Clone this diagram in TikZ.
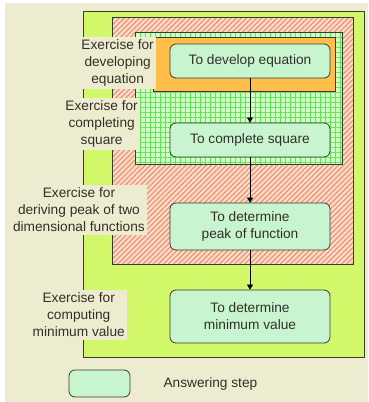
\documentclass[tikz,border=0pt]{standalone}
\usepackage{xcolor}
\usepackage{fontspec}
\setmainfont{Liberation Sans}
\usetikzlibrary{arrows.meta,patterns.meta,positioning}

\definecolor{paper}{RGB}{238,236,208}
\definecolor{lime}{RGB}{208,247,100}
\definecolor{limedot}{RGB}{232,252,160}
\definecolor{salmonbg}{RGB}{252,222,204}
\definecolor{salmonln}{RGB}{236,150,118}
\definecolor{gridbg}{RGB}{210,255,200}
\definecolor{gridln}{RGB}{96,228,86}
\definecolor{orangebox}{RGB}{255,190,72}
\definecolor{stepfill}{RGB}{200,245,208}
\definecolor{edge}{RGB}{58,58,48}
\definecolor{ink}{RGB}{48,48,40}

\begin{document}
\begin{tikzpicture}[x=1pt,y=-1pt]
                \tikzstyle{every node}+=[inner sep=0pt, text=ink, font=\fontsize{13.7}{17}\selectfont]
                \tikzstyle{stepbox}=[draw=edge, line width=0.8pt, fill=stepfill, rounded corners=6pt, align=center, minimum width=160pt]
                \tikzstyle{exlabel}=[fill=paper, align=center, inner xsep=2pt, inner ysep=3pt, anchor=east]
                \tikzstyle{flow}=[draw=black, line width=0.7pt, -{Triangle[width=6pt,length=5pt]}]
                % page and margins
                \fill [white] (0,0) rectangle (368,402);
                \fill [paper] (5,3) rectangle (368,402);
                \useasboundingbox (0,0) rectangle (368,402);
                % nested exercise regions
                \fill [lime] (83,11) rectangle (364,357);
                \fill [pattern={Dots[distance=3pt,radius=0.6pt]}, pattern color=limedot] (83,11) rectangle (364,357);
                \draw [edge, line width=1pt] (83,11) rectangle (364,357);
                \fill [salmonbg] (112,17) rectangle (353,264);
                \fill [pattern={Lines[angle=45,distance=3.6pt,line width=1.3pt]}, pattern color=salmonln] (112,17) rectangle (353,264);
                \draw [edge, line width=0.8pt] (112,17) rectangle (353,264);
                \fill [gridbg] (135,32) rectangle (342,164);
                \fill [pattern={Hatch[angle=0,distance=5pt,line width=0.85pt]}, pattern color=gridln] (135,32) rectangle (342,164);
                \draw [edge, line width=0.8pt] (135,32) rectangle (342,164);
                \draw [edge, line width=0.6pt, fill=orangebox] (153,37) rectangle (335,91);
                % answering steps
                \node [stepbox, minimum height=34pt] (develop) at (250,61) {To develop equation};
                \node [stepbox, minimum height=34pt] (complete) at (250,140) {To complete square};
                \node [stepbox, minimum height=47pt] (peak) at (250,226.5) {To determine\\peak of function};
                \node [stepbox, minimum height=53pt] (minimum) at (250,316.5) {To determine\\minimum value};
                \draw [flow] (develop) -- (complete);
                \draw [flow] (complete) -- (peak);
                \draw [flow] (peak) -- (minimum);
                % exercise labels
                \node [exlabel] (lbdevelop) at (156,63) {Exercise for\\developing\\equation};
                \node [exlabel] (lbcomplete) at (140,124) {Exercise for\\completing\\square};
                \node [exlabel] (lbpeak) at (147,210) {Exercise for\\deriving peak of two\\dimensional functions};
                \node [exlabel] (lbminimum) at (127,315) {Exercise for\\computing\\minimum value};
                % legend
                \node [stepbox, minimum width=61pt, minimum height=27pt] (legend) at (99.5,383.5) {};
                \node [right=33pt of legend] (legendtext) {Answering step};
            \end{tikzpicture}
\end{document}
